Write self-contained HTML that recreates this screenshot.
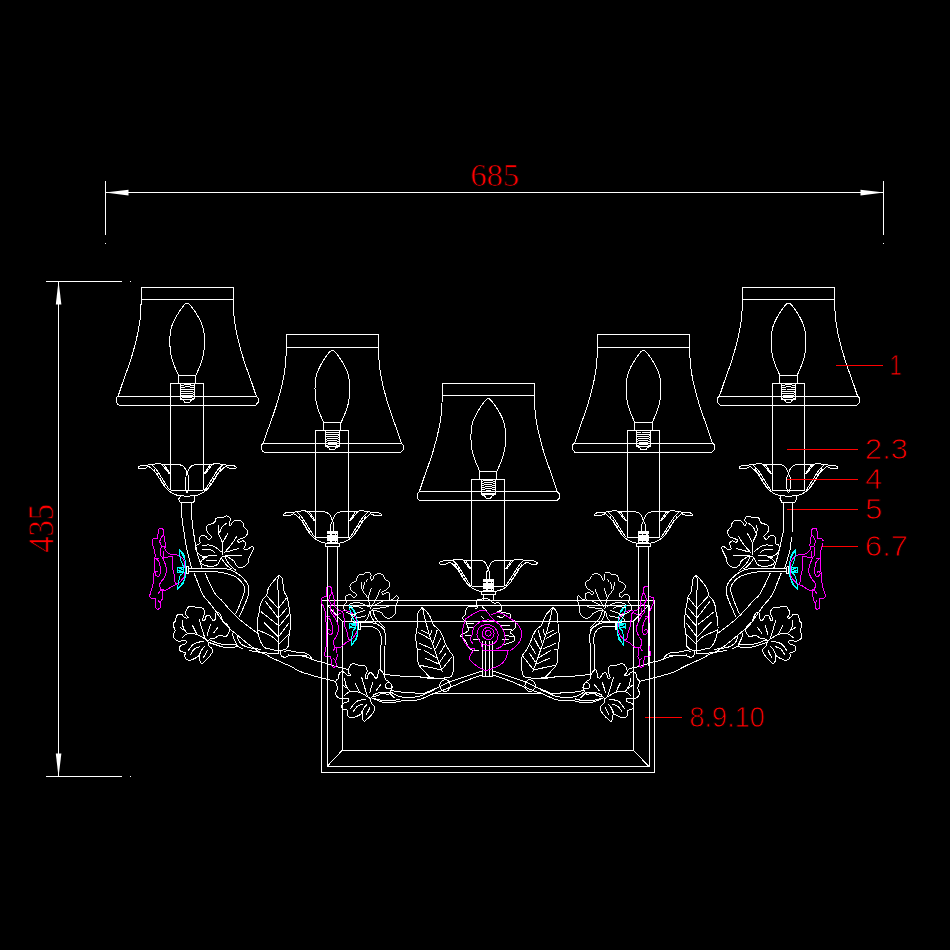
<!DOCTYPE html>
<html><head><meta charset="utf-8"><title>685 x 435</title>
<style>
html,body{margin:0;padding:0;background:#000;}
body{width:950px;height:950px;overflow:hidden;}
svg{display:block;position:absolute;left:0;top:0;}
path,line,polyline{fill:none;stroke:#fff;stroke-width:1;}
.m{stroke:#f0f;}
.c{stroke:#0ff;}
.r{stroke:#f00;}
.wf{fill:#fff;stroke:none;}
.k{stroke:#000;stroke-dasharray:3 1.5;}
.cf{fill:#0ff;stroke:none;}
text{font-family:"Liberation Sans",sans-serif;fill:#f00;}
.ser{font-family:"Liberation Serif",serif;stroke:#000;stroke-width:0.7px;}
.lab{stroke:#000;stroke-width:0.9px;}
.ar{shape-rendering:geometricPrecision;}
</style></head>
<body>
<svg width="950" height="950" viewBox="0 0 950 950" shape-rendering="crispEdges">
<rect class="bg" x="0" y="0" width="950" height="950" style="fill:#000;stroke:none"/>
<defs><g id="lamp">
<path d="M-46 12.4 L-46 0 L46 0 L46 12.4 M-46 12.4 L46 12.4 M-46 12.4 C-46.1 14 -46.2 18.6 -46.4 22 C-46.6 25.4 -46.8 29.2 -47.2 32.6 C-47.6 36 -48.2 39.3 -48.8 42.6 C-49.4 45.9 -50.2 49.3 -51 52.6 C-51.8 55.9 -52.7 59.3 -53.6 62.6 C-54.5 65.9 -55.5 69.3 -56.6 72.6 C-57.7 75.9 -58.8 79.3 -60 82.6 C-61.2 85.9 -62.4 89.3 -63.6 92.6 C-64.8 95.9 -66.1 99.9 -67 102.6 C-67.9 105.3 -68.7 107.6 -69 108.6 M46 12.4 C46.1 14 46.2 18.6 46.4 22 C46.6 25.4 46.8 29.2 47.2 32.6 C47.6 36 48.2 39.3 48.8 42.6 C49.4 45.9 50.2 49.3 51 52.6 C51.8 55.9 52.7 59.3 53.6 62.6 C54.5 65.9 55.5 69.3 56.6 72.6 C57.7 75.9 58.8 79.3 60 82.6 C61.2 85.9 62.4 89.3 63.6 92.6 C64.8 95.9 66.1 99.9 67 102.6 C67.9 105.3 68.7 107.6 69 108.6 M-69 108.6 L69 108.6 M-69 108.6 L-71 110.6 L-71 115 L-68.6 117.6 M69 108.6 L71 110.6 L71 115 L68.6 117.6 M-68.6 117.6 L68.6 117.6 M-8.6 88.2 C-9.4 86.3 -12.1 80.5 -13.4 77 C-14.7 73.5 -15.6 70.9 -16.3 67 C-17 63.1 -17.4 57.8 -17.4 53.5 C-17.4 49.2 -16.9 44.9 -16.2 41.5 C-15.5 38.1 -14.3 35.8 -13 33 C-11.7 30.2 -9.6 27 -8.2 24.7 C-6.8 22.4 -5.4 20.8 -4.4 19.4 C-3.4 18 -2.7 17.2 -2 16.6 C-1.3 16 -0.7 15.7 0 15.7 C0.7 15.7 1.3 16 2 16.6 C2.7 17.2 3.4 18 4.4 19.4 C5.4 20.8 6.8 22.4 8.2 24.7 C9.6 27 11.7 30.2 13 33 C14.3 35.8 15.5 38.1 16.2 41.5 C16.9 44.9 17.4 49.2 17.4 53.5 C17.4 57.8 17 63.1 16.3 67 C15.6 70.9 14.7 73.5 13.4 77 C12.1 80.5 9.4 86.3 8.6 88.2 M-8.6 88.2 L8.6 88.2 L8.6 96 L-8.6 96Z M-16.4 203 L-16.4 96 L16.2 96 L16.2 203 M-16.4 203 L16.2 203 M-6.8 98.3 L-2 97.4 L2.5 97.4 L6.8 98.5 M-6.8 100.4 L-2 99.5 L2.5 99.5 L6.8 100.6 M-6.8 102.5 L-2 101.6 L2.5 101.6 L6.8 102.7 M-6.8 104.6 L-2 103.7 L2.5 103.7 L6.8 104.8 M-6.8 106.7 L-2 105.8 L2.5 105.8 L6.8 106.9 M-6.8 108.8 L-2 107.9 L2.5 107.9 L6.8 109 M-6.8 110.9 L-2 110 L2.5 110 L6.8 111.1 M-7 96.4 L-7 111.6 L-3.6 113 L-2.4 115 L2.4 115 L3.6 113 L7 111.6 L7 96.4 M-7 111.6 L7 111.6 M-49.2 179.7 C-48.7 179.5 -47.7 178.5 -46.1 178.1 C-44.5 177.8 -41.6 177.9 -39.8 177.7 C-38 177.5 -37.2 177.3 -35.3 177.1 C-33.5 176.8 -30.1 176.1 -28.4 176.1 C-26.7 176.1 -25.8 176.9 -25.2 177.1 M49.2 179.7 C48.7 179.5 47.7 178.5 46.1 178.1 C44.5 177.8 41.6 177.9 39.8 177.7 C38 177.5 37.2 177.3 35.3 177.1 C33.5 176.8 30.1 176.1 28.4 176.1 C26.7 176.1 25.8 176.9 25.2 177.1 M-49.2 179.7 C-49 180 -49 180.9 -48 181.2 C-46.9 181.4 -44.3 181.4 -42.9 181.2 C-41.6 180.9 -40.6 179.9 -39.8 179.6 C-38.9 179.3 -38.2 179.3 -37.9 179.3 M49.2 179.7 C49 180 49 180.9 48 181.2 C46.9 181.4 44.3 181.4 42.9 181.2 C41.6 180.9 40.6 179.9 39.8 179.6 C38.9 179.3 38.2 179.3 37.9 179.3 M-37.9 179.3 C-37.3 179.8 -35.9 181 -34.7 182.1 C-33.6 183.2 -32.1 184.4 -30.9 185.9 C-29.8 187.4 -28.8 189.3 -27.8 191 C-26.7 192.7 -25.8 194.3 -24.6 196 C-23.5 197.7 -22.2 199.6 -20.8 201.1 C-19.5 202.5 -18 203.8 -16.4 204.9 C-14.8 205.9 -12.9 206.8 -11.3 207.4 C-9.8 208 -7.7 208.3 -6.9 208.5 M37.9 179.3 C37.3 179.8 35.9 181 34.7 182.1 C33.6 183.2 32.1 184.4 30.9 185.9 C29.8 187.4 28.8 189.3 27.8 191 C26.7 192.7 25.8 194.3 24.6 196 C23.5 197.7 22.2 199.6 20.8 201.1 C19.5 202.5 18 203.8 16.4 204.9 C14.8 205.9 12.9 206.8 11.3 207.4 C9.8 208 7.7 208.3 6.9 208.5 M-6.9 208.5 L0 208.7 M6.9 208.5 L-0 208.7 M-35.3 177.7 C-34.6 178.4 -32.3 180.4 -30.9 182.1 C-29.6 183.8 -28.3 186 -27.1 187.8 C-26 189.6 -25 191.2 -24 192.9 C-22.9 194.5 -21.8 196.4 -20.8 197.9 C-19.9 199.4 -18.9 200.9 -18.3 201.7 C-17.7 202.5 -17.2 202.7 -17 202.8 M35.3 177.7 C34.6 178.4 32.3 180.4 30.9 182.1 C29.6 183.8 28.3 186 27.1 187.8 C26 189.6 25 191.2 24 192.9 C22.9 194.5 21.8 196.4 20.8 197.9 C19.9 199.4 18.9 200.9 18.3 201.7 C17.7 202.5 17.2 202.7 17 202.8 M-25.2 177.1 L-8.2 177.1 M25.2 177.1 L8.2 177.1 M-8.2 177.1 C-7.5 177.4 -4.9 178 -3.8 179 C-2.6 179.9 -1.8 181.5 -1.2 182.8 C-0.7 184 -0.2 185.5 -0.2 186.5 C-0.3 187.6 -1.3 188.7 -1.6 189.1 M8.2 177.1 C7.5 177.4 4.9 178 3.8 179 C2.6 179.9 1.8 181.5 1.2 182.8 C0.7 184 0.2 185.5 0.2 186.5 C0.3 187.6 1.3 188.7 1.6 189.1 M-1.6 189.1 L-1.6 201.1 L-0.1 205.5 M1.6 189.1 L1.6 201.1 L0.1 205.5 M-25.2 177.1 L-18.3 185.9 L-17.3 185.9 L-22.7 177.7 M25.2 177.1 L18.3 185.9 L17.3 185.9 L22.7 177.7 M-33.5 181.2 L-32.2 183.8 M33.5 181.2 L32.2 183.8 M-30.3 185.3 L-29 188.2 M30.3 185.3 L29 188.2 M-27.1 190.3 L-25.9 193.2 M27.1 190.3 L25.9 193.2 M-24 195.4 L-22.7 198.3 M24 195.4 L22.7 198.3"/>
</g></defs>
<use href="#lamp" x="187.2" y="287.4"/>
<use href="#lamp" x="332.4" y="334.6"/>
<use href="#lamp" x="488.3" y="383"/>
<use href="#lamp" x="643.5" y="334.6"/>
<use href="#lamp" x="788.5" y="287.4"/>

<path d="M105.5 181 L105.5 235 M105.5 243 L105.5 244 M883.5 181 L883.5 235 M883.5 243 L883.5 244 M105 192.5 L884 192.5 M46 281.5 L122 281.5 M130 281.5 L131 281.5 M46 776.5 L122 776.5 M130 776.5 L131 776.5 M58.5 281 L58.5 777"/>
<path class="wf ar" d="M105 192.5 L128.5 189.8 L128.5 195.4Z"/>
<path class="wf ar" d="M884 192.5 L860.5 189.8 L860.5 195.4Z"/>
<path class="wf ar" d="M58.5 281 L55.8 304.5 L61.4 304.5Z"/>
<path class="wf ar" d="M58.5 777 L55.8 753.5 L61.4 753.5Z"/>
<path class="r" d="M836 365.5 L883 365.5 M786.5 449.5 L858 449.5 M786.5 479.5 L858 479.5 M786.5 509.5 L858 509.5 M821 546.5 L858 546.5 M644.5 717.5 L682 717.5"/>
<text class="ser" x="494.5" y="186" font-size="32.5" text-anchor="middle">685</text>
<text class="ser" transform="translate(53.4 528.3) rotate(-90) scale(0.93 1)" font-size="35" text-anchor="middle">435</text>
<text class="lab" transform="translate(889.4 375) scale(0.74 1)" font-size="29.2">1</text>
<text class="lab" transform="translate(864.8 458.7) scale(1.055 1)" font-size="29.2">2.3</text>
<text class="lab" transform="translate(865 489.2) scale(1.055 1)" font-size="29.2">4</text>
<text class="lab" transform="translate(865 519.2) scale(1.055 1)" font-size="29.2">5</text>
<text class="lab" transform="translate(864.8 556.2) scale(1.055 1)" font-size="29.2">6.7</text>
<text class="lab" transform="translate(689.2 726.7) scale(0.93 1)" font-size="29.2">8.9.10</text>
<path d="M321.5 600.5 L654.5 600.5 L654.5 772.5 L321.5 772.5Z M327 605 L649 605 L649 766.5 L327 766.5Z M342.5 621.5 L633 621.5 L633 750 L342.5 750Z M327 605 L342.5 621.5 M649 605 L633 621.5 M327 766.5 L342.5 750 M649 766.5 L633 750"/>
<defs>
<g id="fl">
<path class="m" d="M158.3 529.5 C158.6 529.3 159.4 528.2 160.2 528.2 C161.1 528.3 162.8 528.7 163.4 529.8 C163.9 530.8 163.5 533 163.7 534.5 C163.9 536.1 164.4 537.2 164.6 538.9 C164.9 540.7 165.2 543.6 165.3 545.3 C165.3 546.9 164.7 548 164.9 549.1 C165.2 550.1 165.6 550.7 166.5 551.6 C167.4 552.4 168.8 553.6 170.3 554.1 C171.8 554.6 173.9 554.1 175.4 554.4 C176.8 554.7 177.9 555.2 179.2 556 C180.4 556.8 182 557.8 182.9 559.2 C183.9 560.5 184.5 562.8 184.8 564.2 C185.2 565.6 184.9 566.2 185 567.6 C185 569 185.1 571.2 185 572.6 C184.8 574.1 184.9 575.1 184.2 576.4 C183.6 577.8 182.3 579.5 181.1 580.8 C179.8 582.2 178.2 583.4 176.6 584.3 C175.1 585.3 173.3 585.6 171.6 586.5 C169.9 587.5 168.3 589.5 166.5 590 C164.8 590.5 162.1 589.7 161.2 589.7 M157.7 538.3 C156.8 538.5 153.5 538.3 152.6 539.3 C151.7 540.2 152.2 542.6 152.3 544 C152.5 545.4 153.1 546 153.6 547.8 C154.1 549.6 155 552.5 155.2 554.7 C155.3 556.9 154.6 558.9 154.5 561.1 C154.5 563.2 154.9 565.4 154.8 567.6 C154.7 569.7 154.1 571.7 153.9 573.9 C153.7 576.1 153.9 578.4 153.6 580.8 C153.3 583.3 152.6 586.2 152 588.4 C151.4 590.6 150.5 592.7 150.1 594.1 C149.7 595.5 149.6 596.2 149.5 596.6 M149.5 596.6 L151.4 598.2 L155.5 598.5 L155.8 604.2 L155.8 608 L157.7 609.6 L160.2 608 L160.2 602.9 L162.1 599.2 L162.4 590.9 L160.8 589.7 L159.6 585.3 L160.2 582.7 L163.4 578.9 M163.4 578.9 C163.8 578.1 165.4 575.5 165.9 573.9 C166.4 572.3 166.6 571.1 166.5 569.5 C166.4 567.9 165.9 566.4 165.3 564.4 C164.6 562.5 163.5 559.4 162.7 557.9 C162 556.4 161.3 556.6 160.8 555.4 C160.4 554.1 160.1 551.8 160.2 550.3 C160.3 548.8 161.3 547.2 161.5 546.5 M163.7 534.5 L161.5 537.1 L159.6 541.5 L160.8 544.6 L161.5 546.5 L165.3 546.2 M157.7 538.3 L158.3 529.5 M163.4 550.9 C163.4 551.9 163.1 555.5 163.4 556.6 C163.7 557.8 163.8 557.9 165.3 557.9 C166.7 557.8 170.9 555.3 172.2 556.3 C173.5 557.4 172.7 562 172.8 564.2 C172.9 566.4 172.6 567.5 172.8 569.5 C173.1 571.4 174.1 573.7 174.4 575.8 C174.8 577.9 174.7 580.7 175.1 582.1 C175.4 583.5 176.4 583.9 176.6 584.3 M155.8 558.5 C156.3 559.1 158.2 560.2 158.9 561.7 C159.7 563.2 159.9 566.3 160.2 567.4 C160.5 568.5 160.5 567.1 160.5 568.2 C160.5 569.3 160.6 572.5 160.2 573.9 C159.8 575.3 159.1 576.2 158.3 576.4 C157.6 576.6 156.3 575.8 155.8 575.2 C155.3 574.5 154.9 573.3 155.2 572.6 C155.4 571.9 156.5 571.1 157.1 571.1 C157.6 571.1 158.1 572.4 158.3 572.6 M155.2 558.5 L158.9 558.5 M158.9 592.2 L158.3 593.5 L160.8 590.3 M158.3 600.4 L159.6 602.3 L160.2 602.9"/>
<path class="c" d="M179.2 549.1 C179.6 549.5 180.8 550.4 181.7 551.6 C182.5 552.7 183.6 554.1 184.2 556 C184.8 557.9 185.2 560.9 185.5 562.9 C185.7 564.9 185.6 566.8 185.6 568 C185.6 569.2 185.6 569 185.6 570.1 C185.6 571.2 185.8 572.7 185.5 574.5 C185.1 576.3 184.4 578.9 183.6 580.8 C182.7 582.7 181.5 584.5 180.4 585.9 C179.4 587.3 177.8 588.8 177.3 589.4 M179.2 549.1 C179.3 550.1 179.5 553.4 179.8 555.4 C180.1 557.4 180.4 559.2 181.1 561.1 C181.7 562.9 183.2 565.8 183.6 566.7 M177.3 589.4 L177.9 585.3 L179.2 578.9 L180.4 575.2 L183.6 572.3 M177.3 589.4 L182.9 584 L185.5 576.4 M180.4 551.6 L182.9 554.1 L184.2 557.9 L181.7 552.8 M177.6 567.6 L183.6 567.6 L183.6 572 L177.6 572 L177.6 567.6 L183.6 569.5 L177.6 570.7 L183.6 572"/>
</g>
<g id="la">
<path d="M222 557 C221.7 557.5 220.7 558.8 220 560 C219.3 561.2 219 563 218 564 C217 565 215.5 565.6 214 566 C212.5 566.4 210.7 566.3 209 566.2 C207.3 566.1 205.3 565.7 204 565.2 C202.7 564.7 201.4 563.8 201 563 C200.6 562.2 201.1 561 201.8 560.2 C202.5 559.4 204 558.8 205 558.2 C206 557.6 207.5 557 208 556.7 M208 556.7 C207.3 556.7 205.3 556.8 204 556.5 C202.7 556.2 201.2 555.8 200 555 C198.8 554.2 197.8 553.2 197 552 C196.2 550.8 195.6 549.1 195.5 548 C195.4 546.9 195.8 546 196.5 545.2 C197.2 544.4 199.5 544.1 200 543.2 C200.5 542.3 199.3 541 199.3 540 C199.3 539 199.4 537.8 200 537 C200.6 536.2 202 535.6 203 535.5 C204 535.4 205.2 535.9 206 536.5 C206.8 537.1 207.2 538.7 208 539 C208.8 539.3 210 539 210.5 538.5 C211 538 211.4 537 211.2 536.2 C210.9 535.5 209.7 534.9 209 534 C208.3 533.1 207.4 532.2 207 531 C206.6 529.8 206.2 528.1 206.5 527 C206.8 525.9 207.7 525.1 208.8 524.5 C209.9 523.9 212 524 213 523.5 C214 523 214.5 522.3 215 521.5 C215.5 520.7 215.3 519.2 216 518.5 C216.7 517.8 217.8 517.5 219 517.3 C220.2 517.1 221.8 517.7 223 517.5 C224.2 517.3 225 516.1 226 516 C227 515.9 228.2 516.3 229 517 C229.8 517.7 230.5 519 230.5 520 C230.5 521 229 522 229 523 C229 524 229.9 525.8 230.5 525.7 C231.1 525.6 231.8 523.4 232.5 522.5 C233.2 521.6 233.8 520.9 235 520.5 C236.2 520.1 238.7 519.9 240 520.3 C241.3 520.7 242.3 521.9 243 523 C243.7 524.1 243.3 525.8 244 527 C244.7 528.2 246.4 529 247 530 C247.6 531 248 531.8 247.7 533 C247.4 534.2 246.1 536.1 245 537 C243.9 537.9 242.2 538 241 538.5 C239.8 539 238.1 539.4 237.8 540 C237.5 540.6 238.1 542.1 239 542.2 C239.9 542.3 241.9 540.7 243 540.8 C244.1 540.9 245.2 542.1 245.5 543 C245.8 543.9 245.2 545 245 546 C244.8 547 243.5 548.5 244 549 C244.5 549.5 246.7 549.5 248 549 C249.3 548.5 251.1 546.4 252 546.3 C252.9 546.2 253.7 547.2 253.5 548.5 C253.3 549.8 251.8 552.2 251 554 C250.2 555.8 249 557.5 248.5 559 C248 560.5 248.6 561.8 248 563 C247.4 564.2 246.3 565.2 245 566 C243.7 566.8 241.5 567.8 240 567.7 C238.5 567.6 237 566.3 236 565.2 C235 564.1 234.8 562.2 234 561.2 C233.2 560.2 232 559.7 231 559 C230 558.3 229 557.5 228 557 C227 556.5 226 556 225 556 C224 556 222.5 556.8 222 557 M223 554.5 C222.9 552.6 223.2 546.2 222.5 543 C221.8 539.8 219.8 537.2 219 535 C218.2 532.8 218.1 531.7 218 530 C217.9 528.3 218.6 525.8 218.7 525 M222.5 543 L228 533 M219.5 533 C219.9 532 220.8 528.7 222 527 C223.2 525.3 226.2 523.7 227 523 M224 553 C225.2 551.7 228.8 547.8 231 545 C233.2 542.2 236 537.5 237 536 M226 552 L239 548.5 M225 555 C226.3 555.1 230.2 555.4 233 555.5 C235.8 555.6 240.5 555.5 242 555.5 M221.5 552 C220.4 551.2 217.1 548.2 215 547 C212.9 545.8 211.2 545.2 209 545 C206.8 544.8 203.2 545.4 202 545.5 M215 552.5 C214.2 552 212.3 550.1 210 549.5 C207.7 548.9 202.5 549.1 201 549 M217 555 C215.5 555.2 210.5 555.5 208 556 C205.5 556.5 203 557.7 202 558 M217 560.5 L206 561"/>
</g>
<g id="lb">
<path d="M207.9 640.9 C208.4 640.5 209.2 639.3 210.5 638.8 C211.7 638.3 214.4 638.4 215.5 637.9 C216.6 637.5 216.4 636.7 217.2 636.3 C218.1 635.8 219.2 635.4 220.6 635.4 C222 635.5 224.4 637 225.6 636.7 C226.9 636.4 227.5 634.9 228.2 633.7 C228.9 632.5 229.8 630.8 229.8 629.5 C229.8 628.3 228.9 627.2 228.2 626.2 C227.5 625.1 226.5 623.9 225.6 623.2 C224.8 622.5 223.8 623 223.1 621.9 C222.4 620.9 222.1 618.4 221.4 616.9 C220.7 615.4 219.7 613.6 218.9 612.9 C218.1 612.1 216.9 611.7 216.4 612.3 C215.8 612.8 215.7 614.9 215.5 616.1 C215.3 617.2 215.5 618.7 215.1 619.4 C214.7 620.1 213.6 620.5 213 620.3 C212.4 620.1 211.9 618.9 211.3 618.2 C210.8 617.4 210.3 616.1 209.6 615.6 C208.9 615.1 207.8 614.9 207.1 615.2 C206.4 615.6 205.8 616.8 205.4 617.7 C205 618.6 205.1 620.3 204.6 620.7 C204.1 621.1 202.7 620.9 202.5 620.3 C202.3 619.6 203 618 203.3 616.9 C203.7 615.8 204.5 614.8 204.6 613.5 C204.6 612.3 204.3 610.3 203.7 609.3 C203.2 608.3 202.5 607.9 201.2 607.6 C199.9 607.4 197.4 607.8 196.2 607.6 C194.9 607.4 194.8 606.6 193.6 606.4 C192.5 606.2 190.5 606 189.4 606.4 C188.4 606.7 187.9 607.5 187.3 608.5 C186.7 609.5 185.8 611.1 185.6 612.3 C185.4 613.4 185.6 614.4 186.1 615.2 C186.5 616.1 188.2 616.8 188.2 617.3 C188.2 617.8 186.8 618.2 186.1 618.2 C185.4 618.1 184.6 617.5 183.9 616.9 C183.2 616.3 182.9 614.9 181.8 614.5 C180.8 614.2 178.6 614.1 177.6 614.8 C176.6 615.5 176.3 617.5 175.9 618.6 C175.6 619.6 175.9 620.3 175.5 621.1 C175.1 621.9 173.7 622.2 173.4 623.2 C173.1 624.2 173.6 625.8 173.8 627 C174.1 628.2 175.2 629.1 175.1 630.4 C175 631.6 173.6 633.3 173.4 634.6 C173.2 635.8 173.1 636.9 173.8 637.9 C174.5 639 176.2 640.4 177.6 640.9 C179.1 641.4 181.3 640.9 182.7 640.9 C184.1 640.9 185.6 640.4 186.1 640.9 C186.5 641.4 186.5 643.1 185.6 643.8 C184.8 644.6 182.1 644.8 181 645.5 C179.9 646.2 179.4 647.1 179.3 648.1 C179.2 649 179.6 650.6 180.6 651.4 C181.6 652.2 184.5 652 185.2 652.7 C185.9 653.4 184.6 654.6 184.8 655.6 C184.9 656.7 185.3 658.2 186.1 659 C186.8 659.8 188.2 660.3 189.4 660.3 C190.7 660.3 192.1 659.7 193.6 659 C195.2 658.3 197.7 656.9 198.7 656.1 C199.7 655.2 199.3 653.2 199.5 653.9 C199.7 654.7 199.6 659.1 199.9 660.7 C200.3 662.3 200.9 663.5 201.6 663.6 C202.4 663.8 203.4 662.6 204.6 661.5 C205.8 660.5 207.5 658.9 208.8 657.3 C210.1 655.8 211.6 653.7 212.2 652.3 C212.7 650.9 212.7 650 212.2 648.9 C211.6 647.8 209.5 646.9 208.8 645.5 C208.1 644.2 208.1 641.7 207.9 640.9 M207.9 640.9 C206.1 639.8 200.4 635.8 197 634.6 C193.6 633.4 190.3 633.2 187.7 633.7 C185.2 634.3 182.8 637.2 181.8 637.9 M187.7 633.7 C187.2 633.2 185.7 631.4 184.4 630.4 C183 629.3 180.5 627.9 179.7 627.4 M186.1 632.1 C185.6 631.2 183.7 629 183.1 627 C182.5 625 182.4 621.4 182.3 620.3 M197 634.6 C196.6 633.7 195.2 631.1 194.5 629.5 C193.7 628 192.7 626 192.4 625.3 M205.4 639.6 C205 638.4 203.7 634.7 202.9 632.1 C202.1 629.4 201 625.7 200.4 623.6 C199.7 621.5 199.3 620.1 199.1 619.4 M207.1 635.4 C207.4 634.4 208.2 631.4 208.8 629.5 C209.4 627.7 210.2 625.3 210.5 624.5 M213.4 633.3 L218.5 626.6 M203.7 641.3 C202.6 641.5 198.8 642 197 642.6 C195.2 643.1 194.3 643.2 192.8 644.7 C191.2 646.2 188.6 650.3 187.7 651.4 M200.4 646.4 C199.4 646.8 196.2 647.5 194.5 648.9 C192.8 650.3 191 653.8 190.3 654.8 M204.6 646.4 C204 647.1 202.1 649 201.2 650.6 C200.4 652.1 199.8 654.8 199.5 655.6 M207.5 649.7 C207.1 650.6 205.7 653.5 205 654.8 C204.3 656.1 203.6 657.2 203.3 657.7"/>
</g>
</defs>
<g id="lefthalf">
<path d="M188.5 566.5 L186.8 566.5 L186.8 573.5 L188.5 573.5 M188.5 566.5 L188.5 573.5 M188.5 568.8 C191.2 568.8 198.6 568.8 205 568.8 C211.4 568.8 222 568.5 227 569 C232 569.5 232.3 570.5 235 572 C237.7 573.5 240.8 575.8 243 578 C245.2 580.2 247 582.5 248 585 C249 587.5 249.2 590.1 248.8 592.8 C248.5 595.6 247.1 598.7 245.9 601.7 C244.8 604.6 243.2 608 242.1 610.5 C241.1 613.1 239.8 615.8 239.4 616.8 M188.5 571.8 C191.2 571.8 200.1 571.8 205 571.8 C209.9 571.8 214.7 571.8 218 572 C221.3 572.2 222.2 572.5 225 573.2 C227.8 574 232.3 575.1 235 576.5 C237.7 577.9 239.4 579.6 241 581.5 C242.6 583.4 244.3 585.7 244.7 588 C245.1 590.3 244 592.5 243.2 595.4 C242.3 598.3 240.6 602.3 239.4 605.5 C238.1 608.6 236.2 612.8 235.6 614.3 M221.5 557.5 C221.8 558 222.1 559.2 223 560.5 C223.9 561.8 225.6 564.1 227 565.5 C228.4 566.9 230.8 568.4 231.5 569 M225 556.2 C225.3 557 226 559.4 227 561 C228 562.6 229.5 564.4 231 566 C232.5 567.6 235.2 569.8 236 570.5 M194 573 C194.7 574.7 196.5 579.3 198 583 C199.5 586.7 200.7 591.3 203 595 C205.3 598.7 209.1 602.3 211.6 605.5 C214.1 608.7 215.8 611.4 217.9 614.3 C220 617.3 222.5 620.9 224.2 623.2 C226 625.4 226.9 626.2 228.4 627.7 C229.9 629.2 231.9 630.6 233.4 631.9 C234.9 633.2 235.5 633.5 237.6 635.3 C239.7 637 243.6 640.4 246.1 642.4 C248.6 644.4 250.7 646 252.8 647.5 C254.9 649 256.7 650.2 258.7 651.3 C260.7 652.3 262.4 652.7 264.6 653.8 C266.9 654.9 269.2 656.5 272.2 658 C275.1 659.5 278.9 661.1 282.3 662.6 C285.7 664.1 289.8 666 292.4 667.3 C295 668.6 295.7 669.4 297.6 670.4 C299.6 671.3 301.8 672.2 303.9 672.9 C306.1 673.6 308.2 674.2 310.3 674.8 C312.4 675.4 314.7 676.2 316.6 676.7 C318.5 677.2 319.4 677.4 321.5 677.9 C323.6 678.5 326.9 679.3 329.2 679.8 C331.5 680.4 334.5 681.2 335.5 681.4 M205 573 C205.8 574.8 208.2 580.3 210 584 C211.8 587.7 214.1 592.3 216 595 C217.9 597.7 219.3 597.8 221.7 600.4 C224.1 603 227.8 607.6 230.5 610.5 C233.3 613.5 235.6 615.8 238.1 618.1 C240.6 620.4 243.2 622.4 245.7 624.4 C248.2 626.4 251.2 628.5 253.3 630.1 C255.4 631.7 257.5 633.3 258.3 633.9 M208.8 639.6 C210.2 640.2 214.4 642.2 217.2 643 C220 643.8 222.4 644.5 225.6 644.7 C228.9 644.9 234.8 644.3 236.6 644.3 M207.9 642.2 C209.2 642.6 212.9 643.8 215.5 644.7 C218.2 645.5 221.1 646.7 223.9 647.2 C226.8 647.7 230.1 647.8 232.4 647.6 C234.6 647.5 236.6 646.6 237.4 646.4 M232.6 632.7 C232.7 633.6 232.9 636.1 233.4 637.8 C234 639.5 235.2 641.4 235.9 642.8 C236.6 644.2 236.4 645.2 237.6 646.2 C238.9 647.3 242.5 648.7 243.5 649.2 M237.6 636.1 C237.8 636.8 237.8 638.9 238.5 640.3 C239.2 641.7 240.4 643.4 241.8 644.5 C243.2 645.6 245.1 646.4 246.9 647.1 C248.7 647.7 250.4 647.9 252.8 648.3 C255.2 648.7 259.8 649.2 261.2 649.4 M248.6 650.4 C250.3 650.7 256 651.5 258.7 652.1 C261.4 652.7 263.6 653.5 264.6 653.8 M261.2 652.1 C263 652.4 269.2 653.5 272.2 653.8 C275.1 654.1 277.8 653.8 278.9 653.8 M278.5 650.4 L278.9 653.8 M280.6 651.3 C280.6 651.8 280 653.6 280.6 654.6 C281.1 655.6 282.7 656.9 283.9 657.2 C285.2 657.4 287.3 656.5 288.2 655.9 C289 655.3 288.9 654.1 289 653.8 M283.9 651.3 C284.9 651.2 287.7 650.7 289.8 650.8 C291.9 651 294.2 651.8 296.6 652.1 C299 652.4 302.9 652.5 304.2 652.5 M289 655.5 C290.3 655.5 293.6 655.8 296.6 655.9 C299.5 656 305 655.9 306.7 655.9 M278.7 575.2 C278 576 275.9 578.4 274.5 580.1 C273.1 581.8 271.5 583.3 270.3 585.2 C269.1 587 267.9 589.4 267.3 591.1 C266.7 592.7 267.5 593.9 266.7 595.3 C266 596.7 263.8 597.8 262.7 599.5 C261.6 601.2 260.7 603.4 260.2 605.4 C259.6 607.3 259.7 608.9 259.3 611.3 C258.9 613.6 258 616.7 257.6 619.7 C257.3 622.6 257.1 626.3 257.2 628.9 C257.4 631.6 257.8 633.4 258.5 635.7 C259.1 637.9 260 640.5 261 642.4 C262 644.4 263.1 646.4 264.4 647.5 C265.7 648.5 266.9 648.3 268.8 648.7 C270.6 649.2 273.6 650 275.5 650.3 C277.5 650.5 278.9 650.6 280.6 650.4 C282.3 650.2 284.4 649.9 285.6 649.2 C286.9 648.5 287.7 646.8 288.2 646.2 C288.6 645.6 288.3 647.3 288.4 645.8 C288.5 644.3 288.5 640.2 288.8 637.4 C289.1 634.6 289.8 631.8 290.1 628.9 C290.3 626.1 290.5 623.6 290.5 620.5 C290.4 617.4 290 613.2 289.6 610.4 C289.3 607.6 288.8 605.9 288.4 603.7 C287.9 601.4 287.8 598.9 287.1 596.9 C286.4 595 284.8 593.6 284.2 591.9 C283.5 590.2 283.7 589.1 283.3 586.8 C283 584.6 282.8 580.4 282.1 578.4 C281.3 576.5 279.2 575.8 278.7 575.2 M278.7 575.9 L277.5 581.8 L277.7 590.2 M278.5 590.2 L278.5 650 L278.6 650.4 M278.5 608.7 L266.7 595.7 M278.3 618 L264.8 600.7 M277.4 624.7 L261 611.7 M277.8 636.5 L263.9 622.2 M278.7 607.9 L286.7 597.8 M279.1 617.2 L287.1 607.9 M278.7 626.4 L288.8 614.6 M278.7 636.5 L288.8 623.1 M279.1 644.1 L289.2 634 M278.7 642.4 C277.6 641.4 275.3 638.6 271.9 636.5 C268.6 634.5 260.7 631.3 258.5 630.2 M360 622.2 L358.5 622.2 L358.5 629.8 L360 629.8Z M360 622.5 C361.8 622.5 367.8 622.1 371 622.5 C374.2 622.9 376.8 623.8 379 625 C381.2 626.2 382.9 628.2 384 630 C385.1 631.8 385.3 633.3 385.5 636 C385.7 638.7 385.1 642.8 385 646 C384.9 649.2 384.7 650.3 384.6 655 C384.5 659.7 384.6 670.8 384.6 674 M360 626 C361.8 626.1 368.2 626 371 626.5 C373.8 627 375.4 627.8 377 629 C378.6 630.2 379.8 632.2 380.5 634 C381.2 635.8 381.4 637.8 381.5 640 C381.6 642.2 380.9 644.5 380.8 647 C380.7 649.5 380.6 651.2 380.6 655 C380.6 658.8 380.6 667.1 380.6 669.5 M370 611 C370.2 611.8 370.2 614.2 371 616 C371.8 617.8 373.3 620.2 375 622 C376.7 623.8 379.3 625.7 381 627 C382.7 628.3 384.3 629.5 385 630 M373 611 C373.3 612 374 615.2 375 617 C376 618.8 377.3 620.2 379 622 C380.7 623.8 384 627 385 628 M303.9 652.4 C304.8 652.8 307.6 654.1 309 655.2 C310.4 656.3 311.1 658.1 312.2 659 C313.2 659.9 313.8 660.1 315.3 660.6 C316.9 661.1 319.2 661.2 321.5 661.8 C323.8 662.5 327.2 663.7 329.2 664.4 C331.2 665.1 332.1 665.5 333.6 665.9 C335.2 666.4 336.8 666.8 338.7 667.2 C340.6 667.6 343.5 668 345 668.5 C346.5 669 347.3 669.9 347.7 670.2 M298.9 655.5 C300.1 655.7 303.9 656.3 305.8 656.8 C307.7 657.3 309.2 657.9 310.3 658.4 C311.3 658.8 311.8 659.2 312.2 659.3 M384.5 674.4 C385.9 674.6 389.4 674.9 392.9 675.3 C396.4 675.6 401.2 676.2 405.5 676.5 C409.9 676.8 414.1 676.7 419 676.9 C423.9 677.2 434.8 678.1 435 678.2 C435.2 678.3 420 677.5 420 677.5 C420 677.5 431.5 678.3 435 678.5 C438.5 678.7 440 678.5 441 678.5 M386.2 683.7 C386.7 683.1 387.8 682.3 388.7 682.4 C389.5 682.6 390.8 683.6 391.2 684.5 C391.7 685.4 391.9 687.2 391.4 687.9 C390.8 688.6 388.9 689 387.8 688.7 C386.8 688.5 385.6 687.1 385.3 686.2 C385 685.4 385.6 684.3 386.2 683.7Z M372.7 695.5 C373.7 695.1 375.9 693.4 378.6 692.9 C381.2 692.5 386 692.1 388.7 692.9 C391.4 693.8 393.6 697.2 394.6 698 M390.4 690.4 C392.2 690.7 397.4 691.7 401.3 692.1 C405.2 692.5 410.4 692.7 413.9 692.9 C417.5 693.2 418.9 694.5 422.4 693.8 C425.9 693.1 432.9 689.5 435 688.7 C437.1 687.9 433.3 689.8 435 689 C436.7 688.2 441.7 685.5 445 684 C448.3 682.5 450.8 681.5 455 680 C459.2 678.5 465.5 676.5 470 675 C474.5 673.5 480 671.7 482 671 M391.2 692.1 C392.5 692.8 395.8 695.4 398.8 696.3 C401.7 697.2 405.5 697.6 408.9 697.6 C412.3 697.6 415.9 697.1 419 696.3 C422.1 695.5 424.8 694.1 427.4 692.9 C430.1 691.8 433.7 690.1 435 689.6 M371.8 698 C373.7 698.4 379.3 700.1 382.8 700.5 C386.3 700.9 389.9 700.8 392.9 700.5 C395.8 700.2 399.2 699.1 400.5 698.8 M373.5 698.8 C375.4 699.5 381.2 702 384.5 702.6 C387.7 703.3 390.1 702.9 392.9 702.6 C395.7 702.4 398.4 701.2 401.3 700.9 C404.3 700.7 407.6 701.2 410.6 700.9 C413.5 700.7 416.2 700.5 419 699.7 C421.8 698.9 424.8 697.4 427.4 696.3 C430.1 695.2 433.4 693.6 435 692.9 C436.6 692.3 434.3 693.5 437 692.5 C439.7 691.5 446.3 688.9 451 687 C455.7 685.1 459.8 683 465 681 C470.2 679 479.2 676 482 675 M440 684 C440.4 682.7 441.7 681.1 443 680.5 C444.3 679.9 446.8 679.8 448 680.5 C449.2 681.2 450.1 683.4 450.2 685 C450.3 686.6 449.5 689 448.5 690 C447.5 691 445.3 691.5 444 691.2 C442.7 691 441.2 689.7 440.5 688.5 C439.8 687.3 439.6 685.3 440 684Z M435 693.5 L487.6 693.5 M422.4 607.2 C421.7 608.1 419 610.3 418.2 612.6 C417.3 614.9 417.5 618.2 417.3 621.1 C417.1 623.9 417.2 626.8 416.9 629.5 C416.6 632.1 415.7 634.7 415.6 637.1 C415.6 639.4 416.2 641.5 416.5 643.8 C416.8 646 417.2 648 417.3 650.5 C417.5 653.1 417 656.4 417.3 658.9 C417.7 661.5 418.2 663.6 419.4 665.7 C420.6 667.8 422.6 669.6 424.5 671.6 C426.3 673.5 428.3 676.3 430.4 677.5 C432.5 678.7 434.6 678.7 437.1 678.7 C439.6 678.8 443.4 678.1 445.5 677.9 C447.6 677.7 448.5 678.1 449.7 677.5 C450.9 676.8 452.1 676.1 452.7 674.1 C453.3 672.1 453.5 668.6 453.5 665.7 C453.6 662.7 453.7 658.8 453.1 656.4 C452.5 654 451 653.5 449.7 651.4 C448.5 649.3 446.8 646.5 445.5 643.8 C444.3 641.1 443.3 637.8 442.2 635.4 C441 633 440.2 631.2 438.8 629.5 C437.4 627.8 435 626.9 433.7 625.3 C432.5 623.6 432.1 621.2 431.2 619.4 C430.4 617.5 430.2 616.4 428.7 614.3 C427.2 612.3 423.4 608.4 422.4 607.2 M422.8 608.4 C423.1 609.8 423.6 613.3 424.5 616.8 C425.3 620.4 426.9 626 427.8 629.5 C428.8 633 429.4 634.9 430.4 637.9 C431.4 640.8 432.6 643.9 433.7 647.2 C434.9 650.4 436 654 437.1 657.3 C438.2 660.5 439.6 664 440.5 666.5 C441.4 669.1 442.2 671.4 442.6 672.4 M429.5 638.7 L418.2 632.4 M432.1 648.8 L419.4 643.4 M437.1 658.1 L424.5 650.5 M438.8 664 L425.3 658.1 M441.3 669.9 L420.3 665.3 M417.3 649.3 L421.1 649.7 M428.7 633.7 L421.1 629.9 M432.1 629.5 L430.4 635.4 M437.1 630.3 L432.9 643.8 M440.9 638.3 L435.4 648.8 M444.7 645.5 L439.6 653.9 M445.9 653.1 L439.6 662.3 M452.3 656.4 L442.2 669.1"/>
<use href="#fl"/>
<use href="#fl" transform="translate(359.5 625.5) rotate(-6) translate(-187.5 -570.5)"/>
<use href="#la"/>
<use href="#la" transform="translate(370 611.5) rotate(-11) scale(0.96) translate(-222 -557)"/>
<use href="#lb"/>
<use href="#lb" transform="translate(162.5 57.7)"/>
</g>
<use href="#lefthalf" transform="translate(975.2 0) scale(-1 1)"/>
<path d="M180.5 496 L178.5 499.3 L180.5 502.5 L193.5 502.5 L195 499.3 L194 496 M181.2 502.5 C181.2 504.1 181.3 508.8 181.5 512 C181.7 515.2 182.1 518.7 182.5 522 C182.9 525.3 183.5 528.7 184 532 C184.5 535.3 184.9 538.7 185.5 542 C186.1 545.3 186.8 548.7 187.5 552 C188.2 555.3 189.3 559.3 190 562 C190.7 564.7 191.2 567 191.5 568 M191 502.5 C191 504.1 191 508.8 191.2 512 C191.4 515.2 191.8 518.7 192.2 522 C192.6 525.3 192.9 528.2 193.5 532 C194.1 535.8 194.8 541.3 195.5 545 C196.2 548.7 196.8 551.2 197.5 554 C198.2 556.8 199.2 559.5 200 562 C200.8 564.5 201.7 567.8 202 569 M780.4 496 L780 498.5 L782 502.5 L794.7 502.5 L796.8 498.5 L796.4 496 M792.6 502.6 L792.6 531.5 M791.6 537 C791.5 537.3 791.5 537.1 791.3 538.8 C791.1 540.5 791 544.2 790.5 547.3 C790 550.4 788.9 554.3 788 557.4 C787.1 560.5 786 564 785.4 565.8 C784.8 567.6 784.5 567.6 784.3 568 M783.3 502.6 C783.3 505 783.3 512.2 783.3 517 C783.3 521.8 783.5 528 783.3 531.3 C783.1 534.6 782.5 534.6 782 537 C781.5 539.4 781 542.9 780.4 545.6 C779.8 548.3 779.2 550.3 778.5 553 C777.8 555.7 776.8 559.4 776 562 C775.2 564.6 774 567.4 773.6 568.5"/>
<path class="wf" d="M327.2 531 L337.7 531 L337.7 542.6 L327.2 542.6Z M483.1 579.4 L493.6 579.4 L493.6 591 L483.1 591Z M638.3 531 L648.8 531 L648.8 542.6 L638.3 542.6Z"/>
<path class="k" d="M327.4 534.1 L337.4 534.1 M327.4 541.1 L337.4 541.1 M483.3 582.5 L493.3 582.5 M483.3 589.5 L493.3 589.5 M638.5 534.1 L648.5 534.1 M638.5 541.1 L648.5 541.1"/>
<path d="M325.4 543.5 L339.4 543.5 L339.4 546.5 L325.4 546.5Z M327.4 546.5 L327.4 666 M337.4 546.5 L337.4 622 M481.3 591.9 L495.3 591.9 L495.3 594.9 L481.3 594.9Z M483.3 594.9 L483.3 600 M493.3 594.9 L493.3 600 M636.5 543.5 L650.5 543.5 L650.5 546.5 L636.5 546.5Z M638.5 546.5 L638.5 622 M648.5 546.5 L648.5 666 M482.5 641 L482.5 676.5 M485.5 641 L485.5 676.5 M489.5 641 L489.5 676.5 M492.5 641 L492.5 676.5 M482.5 676.5 L492.5 676.5 M488 599 C489 599.7 492.2 602.3 494 603 C495.8 603.7 497.7 602.2 499 603 C500.3 603.8 501.7 606.5 502 608 C502.3 609.5 500.3 611.2 501 612 C501.7 612.8 504.5 612.7 506 613 C507.5 613.3 509.2 613 510 614 C510.8 615 510.2 617.8 511 619 C511.8 620.2 514.3 619.5 515 621 C515.7 622.5 516 626.2 515.2 628 C514.4 629.8 510.2 630.7 510 632 C509.8 633.3 513.3 634.5 514 636 C514.7 637.5 515 639.8 514.2 641 C513.4 642.2 511 642.3 509 643 C507 643.7 503.2 644.7 502 645 M488 599 C487 599 483.8 598.8 482 599 C480.2 599.2 478 599.2 477 600 C476 600.8 476 602.9 476 604 C476 605.1 478.4 606.1 477.2 606.5 C476 606.9 470.9 605.9 469 606.5 C467.1 607.1 466.7 608.6 466 610 C465.3 611.4 465.6 613.7 465 615 C464.4 616.3 462.3 616.8 462.5 618 C462.7 619.2 465.2 620.7 466 622 C466.8 623.3 466.7 624.7 467.2 626 C467.7 627.3 469.4 628.8 469 630 C468.6 631.2 466.4 632.1 465 633 C463.6 633.9 460.7 634.5 460.5 635.5 C460.3 636.5 462.9 637.6 464 639 C465.1 640.4 466 642.3 467 644 C468 645.7 468.7 647.8 470 649 C471.3 650.2 474.2 650.7 475 651 M475 609 L478 607.5 M482 606.5 L487 611 M481 616 L484 619 M497 612 L502 610 M497 616 L502 618 L505 615 M467 624 L474 623 M467 628 L473 627 M500 625 L510 626 M502 629 L512 629.5 M465 635 L472 635 M505 635 L513.5 637 M473 640 L480 639.5 M502 639.5 L509 639.5 M475 651 L479 650"/>
<path class="m" d="M465.5 619 C466.2 618.5 468.4 617 470 616 C471.6 615 473.3 613.9 475 613 C476.7 612.1 478.3 610.9 480 610.5 C481.7 610.1 483.7 610.1 485 610.5 C486.3 610.9 487.1 612 488 613 C488.9 614 490.1 615.9 490.5 616.5 M491 615 C491.8 614.7 494.2 613.2 496 613 C497.8 612.8 500 612.8 502 613.5 C504 614.2 506 615.8 508 617 C510 618.2 512.2 619.5 514 621 C515.8 622.5 517.8 624.2 519 626 C520.2 627.8 521.3 629.5 521.5 632 C521.7 634.5 521.1 638.5 520 641 C518.9 643.5 516.7 645.3 515 647 C513.3 648.7 510.8 650.3 510 651 M465.5 619 C465.1 620.5 463.5 625 463 628 C462.5 631 462.2 634.5 462.5 637 C462.8 639.5 463.8 641.2 465 643 C466.2 644.8 468.3 647 470 648 C471.7 649 474.2 648.8 475 649 M475 649 C474.3 649.8 471.9 652.3 471 654 C470.1 655.7 469 657.3 469.5 659 C470 660.7 472.2 662.5 474 664 C475.8 665.5 478 666.9 480 668 C482 669.1 483.8 670.5 486 670.5 C488.2 670.5 490.7 668.9 493 668 C495.3 667.1 498 666.3 500 665 C502 663.7 503.8 661.7 505 660 C506.2 658.3 506.5 656.5 507 655 C507.5 653.5 507.8 651.7 508 651 M482 649.8 L488 651 L500 650.5 L509 650.5 M496 649 C497 648.5 500.5 647.7 502 646 C503.5 644.3 504.7 641.3 505 639 C505.3 636.7 504.8 634.3 504 632 C503.2 629.7 501.7 626.8 500 625 C498.3 623.2 496.2 621.8 494 621 C491.8 620.2 489.3 619.8 487 620 C484.7 620.2 482.2 620.8 480 622 C477.8 623.2 475.3 624.8 474 627 C472.7 629.2 472.7 633 472 635 C471.3 637 469.8 637.5 470 639 C470.2 640.5 472.5 643.2 473 644 M477 634 C477.2 632.3 477.8 629.5 479 628 C480.2 626.5 482.2 625.5 484 625 C485.8 624.5 488.2 624.5 490 625 C491.8 625.5 493.7 626.5 495 628 C496.3 629.5 497.7 632 498 634 C498.3 636 497.8 638.3 497 640 C496.2 641.7 494.7 643.2 493 644 C491.3 644.8 489 645.2 487 645 C485 644.8 482.5 644.2 481 643 C479.5 641.8 478.7 639.5 478 638 C477.3 636.5 476.8 635.7 477 634Z M482 634 C482.2 632.8 483 630.1 484 629 C485 627.9 486.7 627.5 488 627.5 C489.3 627.5 491 628.1 492 629 C493 629.9 493.8 631.7 494 633 C494.2 634.3 493.7 635.9 493 637 C492.3 638.1 491.2 639.2 490 639.5 C488.8 639.8 487.2 639.5 486 639 C484.8 638.5 483.7 637.3 483 636.5 C482.3 635.7 481.8 635.2 482 634Z M485.5 633 C485.6 632.2 486.2 630.8 487 630.5 C487.8 630.2 489.3 630.4 490 631 C490.7 631.6 491.2 633.2 491 634 C490.8 634.8 489.8 635.8 489 636 C488.2 636.2 487.1 636 486.5 635.5 C485.9 635 485.4 633.8 485.5 633Z M490.5 616.5 C491.1 617.1 492.4 618.6 494 620 C495.6 621.4 499 624.2 500 625 M481 643 C481.2 643.7 481.7 645.8 482 647 C482.3 648.2 482.8 649.5 483 650"/>

</svg>
</body></html>
